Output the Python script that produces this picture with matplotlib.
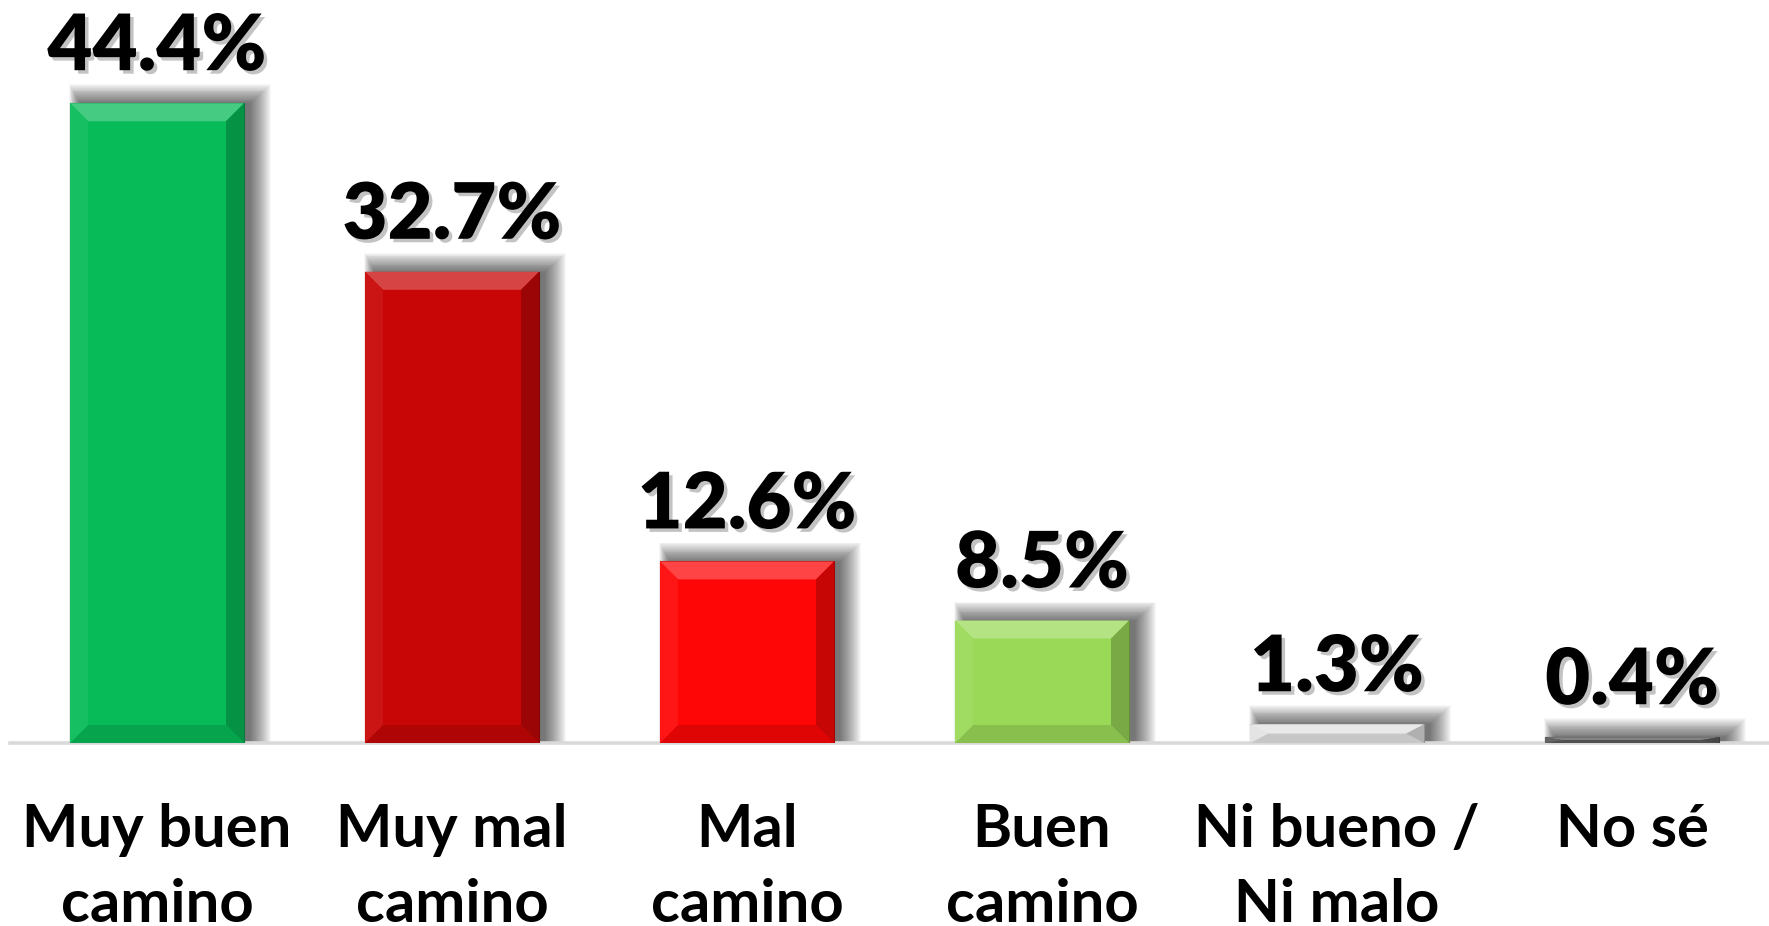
import matplotlib
matplotlib.use("Agg")
import matplotlib.pyplot as plt
import matplotlib.patheffects as pe
from matplotlib.patches import Rectangle, Polygon
from matplotlib.colors import to_rgb
import numpy as np

# data
categories = [("Muy buen", "camino"), ("Muy mal", "camino"), ("Mal", "camino"),
              ("Buen", "camino"), ("Ni bueno /", "Ni malo"), ("No sé", "")]
values = [44.4, 32.7, 12.6, 8.5, 1.3, 0.4]
value_labels = ["44.4%", "32.7%", "12.6%", "8.5%", "1.3%", "0.4%"]
colors = ["#07BB58", "#C80606", "#FE0606", "#9AD958", "#E2E2E2", "#5A5A5A"]


def lighten(c, f):
    c = np.array(to_rgb(c))
    return tuple(c + (1 - c) * f)


def darken(c, f):
    c = np.array(to_rgb(c))
    return tuple(c * (1 - f))


W, H = 1769, 926
fig = plt.figure(figsize=(W / 100, H / 100), dpi=100)
ppu = 14.41  # pixels per percent
ax = fig.add_axes([9.5 / W, 183 / H, 1770 / W, 50 * ppu / H])
ax.set_xlim(-0.5, 5.5)
ax.set_ylim(0, 50)
ax.axis("off")

px_x = 1 / 295.0
px_y = 1 / ppu

x = np.arange(len(values))
bars = ax.bar(x, values, width=0.59, color=colors, zorder=3,
              edgecolor=[darken(c, 0.35) for c in colors], linewidth=0.8)

# blurred shadow behind the bars, thrown to the right
for b in bars:
    x0, w, h = b.get_x(), b.get_width(), b.get_height()
    for s in range(22):
        ax.add_patch(Rectangle((x0 + 10 * px_x - 0.5 * s * px_x, 0),
                               w + 1.5 * s * px_x - 4 * px_x,
                               h + s * px_y * 0.9,
                               facecolor="black", edgecolor="none",
                               alpha=0.03, zorder=1))

# bevel
bev = 18
for b, c in zip(bars, colors):
    x0, w, h = b.get_x(), b.get_width(), b.get_height()
    bx = bev * px_x
    by = min(bev * px_y, h / 2)
    x1 = x0 + w
    top = [(x0, h), (x1, h), (x1 - bx, h - by), (x0 + bx, h - by)]
    bot = [(x0, 0), (x1, 0), (x1 - bx, by), (x0 + bx, by)]
    lef = [(x0, 0), (x0, h), (x0 + bx, h - by), (x0 + bx, by)]
    rig = [(x1, 0), (x1, h), (x1 - bx, h - by), (x1 - bx, by)]
    for poly, col in [(top, lighten(c, 0.25)), (bot, darken(c, 0.12)),
                      (lef, lighten(c, 0.06)), (rig, darken(c, 0.22))]:
        ax.add_patch(Polygon(poly, closed=True, facecolor=col,
                             edgecolor="none", zorder=4))

ax.axhline(0, color="#D9D9D9", lw=2.6, zorder=2, clip_on=False)

shadow = [pe.SimplePatchShadow(offset=(2.5, -2.5), shadow_rgbFace="#888888",
                               alpha=0.5), pe.Normal()]
for xi, v, lab in zip(x, values, value_labels):
    ax.annotate(lab, (xi, v), xytext=(0, 33 * 0.72), textcoords="offset points",
                ha="center", va="baseline", fontsize=56, fontweight="heavy",
                family="Lato", color="black", path_effects=shadow,
                annotation_clip=False)

for xi, (l1, l2) in zip(x, categories):
    for txt, off in [(l1, -104), (l2, -179)]:
        ax.annotate(txt, (xi, 0), xytext=(0, off * 0.72), textcoords="offset points",
                    ha="center", va="baseline", fontsize=43, fontweight="bold",
                    family="Lato", color="black", annotation_clip=False)

fig.savefig("out.png", dpi=100)
